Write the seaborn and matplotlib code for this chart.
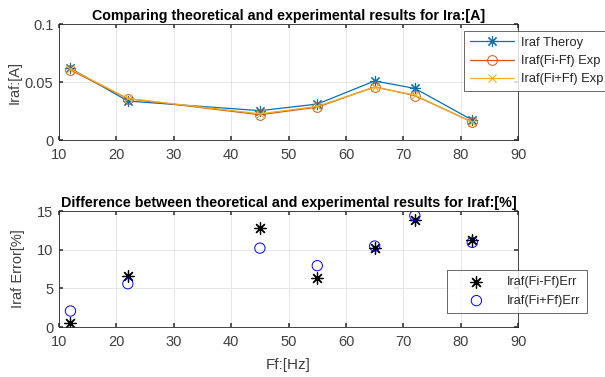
import matplotlib
matplotlib.use("Agg")
import matplotlib.pyplot as plt
import seaborn as sns
import pandas as pd

ff = [12, 22, 45, 55, 65, 72, 82]
iraf_theory = [0.0618, 0.0336, 0.0253, 0.0310, 0.0509, 0.0445, 0.0172]
iraf_exp_minus = [0.0603, 0.0356, 0.0218, 0.0283, 0.0458, 0.0383, 0.0155]
iraf_exp_plus = [0.0612, 0.0358, 0.0226, 0.0290, 0.0456, 0.0387, 0.0153]
err_minus = [0.52, 6.55, 12.8, 6.38, 10.26, 13.88, 11.2]
err_plus = [2.07, 5.6, 10.2, 7.93, 10.47, 14.4, 10.95]

sns.set_theme(style="white")
plt.rcParams['font.family'] = ['Liberation Sans', 'DejaVu Sans']

fig = plt.figure(figsize=(6.05, 3.77), dpi=100)
ax1 = fig.add_axes([0.0975, 0.6286, 0.759, 0.3077])
ax2 = fig.add_axes([0.0975, 0.1326, 0.759, 0.3077])

ast = (8, 2, 0)
tc = '#404040'

df1 = pd.DataFrame({'Ff': ff, 'theory': iraf_theory, 'minus': iraf_exp_minus, 'plus': iraf_exp_plus})
sns.lineplot(data=df1, x='Ff', y='theory', ax=ax1, color='#0072BD', marker=ast, markersize=8,
             markeredgecolor='#0072BD', markeredgewidth=0.8, linewidth=0.9, label='Iraf Theroy')
sns.lineplot(data=df1, x='Ff', y='minus', ax=ax1, color='#D95319', marker='o', markersize=7,
             markerfacecolor='none', markeredgecolor='#D95319', markeredgewidth=0.7, linewidth=0.9, label='Iraf(Fi-Ff) Exp')
sns.lineplot(data=df1, x='Ff', y='plus', ax=ax1, color='#EDB120', marker='x', markersize=6,
             markeredgecolor='#EDB120', markeredgewidth=0.8, linewidth=0.9, label='Iraf(Fi+Ff) Exp')

df2 = pd.DataFrame({'Ff': ff, 'm': err_minus, 'p': err_plus})
sns.scatterplot(data=df2, x='Ff', y='m', ax=ax2, marker=ast, s=70, color='black', linewidth=0.9,
                edgecolor='black', label='Iraf(Fi-Ff)Err')
sns.scatterplot(data=df2, x='Ff', y='p', ax=ax2, marker='o', s=55, facecolors='none',
                edgecolor='#0000FF', linewidth=0.7, label='Iraf(Fi+Ff)Err')

for ax in (ax1, ax2):
    ax.set_xlim(10, 90)
    ax.set_xticks(range(10, 91, 10))
    ax.grid(True, color='#e3e3e3', linewidth=0.6)
    ax.tick_params(direction='in', length=3, labelsize=10.5, colors=tc, top=True, right=True,
                   bottom=True, left=True)
    ax.tick_params(axis='x', pad=6)
    ax.tick_params(axis='y', pad=4)
    for s in ax.spines.values():
        s.set_color('#262626')
        s.set_linewidth(0.6)
        s.set_visible(True)

ax1.set_ylim(0, 0.1)
ax1.set_yticks([0, 0.05, 0.1])
ax1.set_yticklabels(['0', '0.05', '0.1'])
ax1.set_xlabel('')
ax1.set_ylabel('Iraf:[A]', fontsize=10.5, color=tc, labelpad=2)
ax1.set_title('Comparing theoretical and experimental results for Ira:[A]', fontsize=10.3,
              fontweight='bold', color='black', pad=3)
leg1 = ax1.legend(loc='upper left', bbox_to_anchor=(0.883, 0.94), fontsize=9.3, frameon=True,
                  fancybox=False, edgecolor='#262626', handlelength=3.4, borderpad=0.45,
                  labelspacing=0.48, handletextpad=0.5, borderaxespad=0)
leg1.get_frame().set_linewidth(0.6)

ax2.set_ylim(0, 15)
ax2.set_yticks([0, 5, 10, 15])
ax2.set_xlabel('Ff:[Hz]', fontsize=11, color=tc, labelpad=6)
ax2.set_ylabel('Iraf Error[%]', fontsize=10.5, color=tc, labelpad=9)
ax2.set_title('Difference between theoretical and experimental results for Iraf:[%]', fontsize=10.3,
              fontweight='bold', color='black', pad=3)
leg2 = ax2.legend(loc='upper left', bbox_to_anchor=(0.845, 0.495), fontsize=9.2, frameon=True,
                  fancybox=False, edgecolor='#262626', handlelength=3.6, borderpad=0.5,
                  labelspacing=0.55, handletextpad=0.6, borderaxespad=0)
leg2.get_frame().set_linewidth(0.6)

fig.savefig('out.png', dpi=100, facecolor='white')
